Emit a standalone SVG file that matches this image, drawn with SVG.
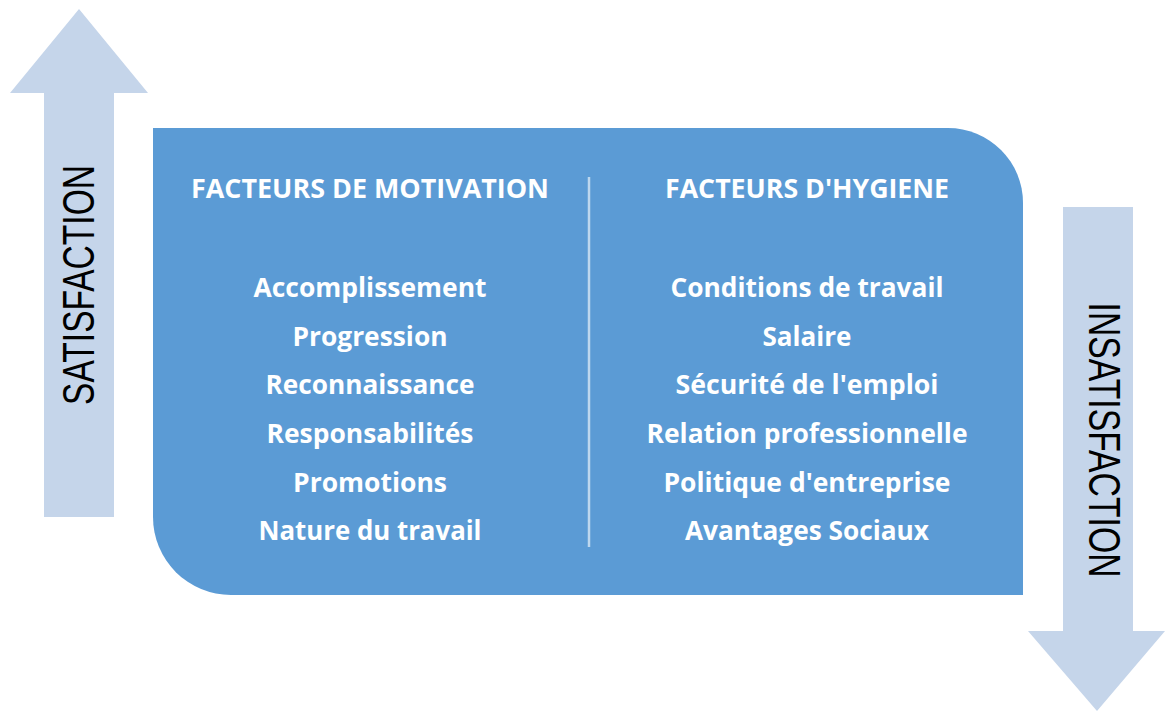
<svg xmlns="http://www.w3.org/2000/svg" width="1165" height="711" viewBox="0 0 1165 711">
<style>
.arrow{fill:#C5D5EA;}
.box{fill:#5B9BD5;}
.t{font-family:"Open Sans","Liberation Sans",sans-serif;font-weight:bold;font-size:26px;fill:#FFFFFF;text-anchor:middle;}
.v{font-family:"Liberation Sans",Arial,sans-serif;font-size:45px;fill:#000000;text-anchor:middle;}
</style>
<g id="arrow-satisfaction">
<polygon class="arrow" points="79,9 148,93 114,93 114,517 44,517 44,93 10,93"/>
<text class="v" transform="translate(94,285) rotate(-90)" textLength="240" lengthAdjust="spacingAndGlyphs">SATISFACTION</text>
</g>
<g id="arrow-insatisfaction">
<polygon class="arrow" points="1063,207 1133,207 1133,631 1165,631 1097,711 1028,631 1063,631"/>
<text class="v" transform="translate(1089,440) rotate(90)" textLength="275" lengthAdjust="spacingAndGlyphs">INSATISFACTION</text>
</g>
<g id="main-box">
<path class="box" d="M153,128 H948 A75,75 0 0 1 1023,203 V595 H231 A78,78 0 0 1 153,517 Z"/>
</g>
<g id="connectors">
<line x1="589" y1="177" x2="589" y2="547" stroke="#BDD7EE" stroke-width="2.5"/>
</g>
<g id="motivation">
<text class="t" x="370" y="198" textLength="358" lengthAdjust="spacingAndGlyphs">FACTEURS DE MOTIVATION</text>
<text class="t" x="370" y="297" textLength="233" lengthAdjust="spacingAndGlyphs">Accomplissement</text>
<text class="t" x="370" y="346" textLength="155" lengthAdjust="spacingAndGlyphs">Progression</text>
<text class="t" x="370" y="394" textLength="209" lengthAdjust="spacingAndGlyphs">Reconnaissance</text>
<text class="t" x="370" y="443" textLength="207" lengthAdjust="spacingAndGlyphs">Responsabilités</text>
<text class="t" x="370" y="492" textLength="154" lengthAdjust="spacingAndGlyphs">Promotions</text>
<text class="t" x="370" y="540" textLength="223" lengthAdjust="spacingAndGlyphs">Nature du travail</text>
</g>
<g id="hygiene">
<text class="t" x="807" y="198" textLength="284" lengthAdjust="spacingAndGlyphs">FACTEURS D'HYGIENE</text>
<text class="t" x="807" y="297" textLength="273" lengthAdjust="spacingAndGlyphs">Conditions de travail</text>
<text class="t" x="807" y="346" textLength="89" lengthAdjust="spacingAndGlyphs">Salaire</text>
<text class="t" x="807" y="394" textLength="263" lengthAdjust="spacingAndGlyphs">Sécurité de l'emploi</text>
<text class="t" x="807" y="443" textLength="321" lengthAdjust="spacingAndGlyphs">Relation professionnelle</text>
<text class="t" x="807" y="492" textLength="287" lengthAdjust="spacingAndGlyphs">Politique d'entreprise</text>
<text class="t" x="807" y="540" textLength="244" lengthAdjust="spacingAndGlyphs">Avantages Sociaux</text>
</g>
</svg>
